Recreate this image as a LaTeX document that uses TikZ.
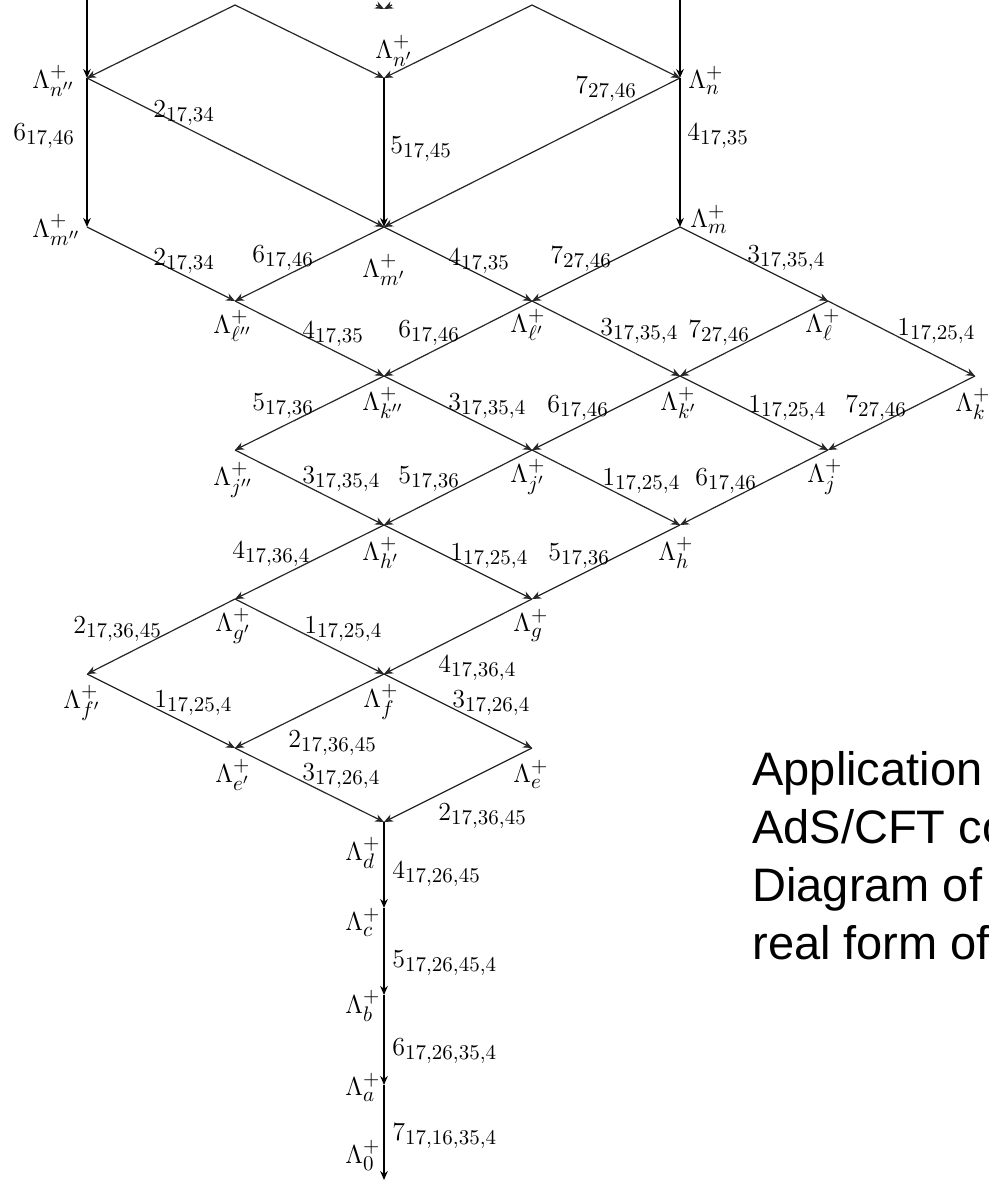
\RequirePackage{fix-cm}
\documentclass[tikz,border=0pt]{standalone}
\usepackage[no-math]{fontspec}
\newfontfamily\capfont{Liberation Sans}
\usetikzlibrary{arrows.meta}
\DeclareMathSizes{13}{13}{10.5}{7.5}
\newcommand\wt[2]{$#1_{#2}$}
\begin{document}
\begin{tikzpicture}[x=0.5pt,y=-0.5pt,
  vx/.style={coordinate},
  tip/.style={-{Stealth[length=4.5pt,width=3.8pt]}},
  diag/.style={tip,line width=0.6pt,black!85},
  vert/.style={tip,line width=0.9pt,black},
  lam/.style={anchor=base west,inner sep=0pt,font=\fontsize{13}{15}\selectfont},
  wlab/.style={anchor=base west,inner sep=0pt,font=\fontsize{13}{15}\selectfont},
  captext/.style={anchor=base west,inner sep=0pt,font=\capfont\fontsize{23.5}{29}\selectfont}]
\useasboundingbox (0,0) rectangle (989,1183);
\fill[white] (0,0) rectangle (989,1183);

% vertices of the weight diagram
\node[vx] (tA) at (87,-10) {};
\node[vx] (pA) at (235,5) {};
\node[vx] (pB) at (532,5) {};
\node[vx] (tC) at (680,-10) {};
\node[vx] (bL) at (376,5) {};
\node[vx] (bR) at (392,5) {};
\node[vx] (bl) at (384,9) {};

\node[vx] (nA) at (87,78) {};
\node[vx] (nB) at (384,78) {};
\node[vx] (nC) at (680,78) {};
\node[vx] (mA) at (87,227) {};
\node[vx] (mB) at (384,227) {};
\node[vx] (mC) at (680,227) {};
\node[vx] (lA) at (235,301) {};
\node[vx] (lB) at (532,301) {};
\node[vx] (lC) at (828,301) {};
\node[vx] (kA) at (384,376) {};
\node[vx] (kB) at (680,376) {};
\node[vx] (kC) at (975,376) {};
\node[vx] (jA) at (235,450) {};
\node[vx] (jB) at (532,450) {};
\node[vx] (jC) at (828,450) {};
\node[vx] (hA) at (384,525) {};
\node[vx] (hB) at (680,525) {};
\node[vx] (gA) at (235,599) {};
\node[vx] (gB) at (532,599) {};
\node[vx] (fA) at (87,674) {};
\node[vx] (fB) at (384,674) {};
\node[vx] (eA) at (235,748) {};
\node[vx] (eB) at (532,748) {};
\node[vx] (d) at (384,822) {};
\node[vx] (c) at (384,908) {};
\node[vx] (b) at (384,995) {};
\node[vx] (a) at (384,1085) {};
\node[vx] (z) at (384,1180) {};

% connectors
\draw[vert] (tA) -- (nA);
\draw[vert] (tC) -- (nC);
\draw[diag] (pA) -- (nA);
\draw[diag] (pA) -- (nB);
\draw[diag] (pB) -- (nB);
\draw[diag] (pB) -- (nC);
\draw[diag] (bL) -- (bl);
\draw[diag] (bR) -- (bl);

\draw[vert] (nA) -- (mA);
\draw[diag] (nA) -- (mB);
\draw[vert] (nB) -- (mB);
\draw[diag] (nC) -- (mB);
\draw[vert] (nC) -- (mC);

\draw[diag] (mA) -- (lA);
\draw[diag] (mB) -- (lA);
\draw[diag] (mB) -- (lB);
\draw[diag] (mC) -- (lB);
\draw[diag] (mC) -- (lC);

\draw[diag] (lA) -- (kA);
\draw[diag] (lB) -- (kA);
\draw[diag] (lB) -- (kB);
\draw[diag] (lC) -- (kB);
\draw[diag] (lC) -- (kC);

\draw[diag] (kA) -- (jA);
\draw[diag] (kA) -- (jB);
\draw[diag] (kB) -- (jB);
\draw[diag] (kB) -- (jC);
\draw[diag] (kC) -- (jC);

\draw[diag] (jA) -- (hA);
\draw[diag] (jB) -- (hA);
\draw[diag] (jB) -- (hB);
\draw[diag] (jC) -- (hB);

\draw[diag] (hA) -- (gA);
\draw[diag] (hA) -- (gB);
\draw[diag] (hB) -- (gB);

\draw[diag] (gA) -- (fA);
\draw[diag] (gA) -- (fB);
\draw[diag] (gB) -- (fB);

\draw[diag] (fA) -- (eA);
\draw[diag] (fB) -- (eA);
\draw[diag] (fB) -- (eB);

\draw[diag] (eA) -- (d);
\draw[diag] (eB) -- (d);

\draw[vert] (d) -- (c);
\draw[vert] (c) -- (b);
\draw[vert] (b) -- (a);
\draw[vert] (a) -- (z);

% weight names
\node[lam] (LnA) at (32,88) {$\Lambda^+_{n''}$};
\node[lam] (LnB) at (375,58) {$\Lambda^+_{n'}$};
\node[lam] (LnC) at (688,88) {$\Lambda^+_{n}$};
\node[lam] (LmA) at (32,237) {$\Lambda^+_{m''}$};
\node[lam] (LmB) at (362,277) {$\Lambda^+_{m'}$};
\node[lam] (LmC) at (690,227) {$\Lambda^+_{m}$};
\node[lam] (LlA) at (213,333) {$\Lambda^+_{\ell''}$};
\node[lam] (LlB) at (510,332) {$\Lambda^+_{\ell'}$};
\node[lam] (LlC) at (805,332) {$\Lambda^+_{\ell}$};
\node[lam] (LkA) at (362,410) {$\Lambda^+_{k''}$};
\node[lam] (LkB) at (660,410) {$\Lambda^+_{k'}$};
\node[lam] (LkC) at (955,411) {$\Lambda^+_{k}$};
\node[lam] (LjA) at (213,485) {$\Lambda^+_{j''}$};
\node[lam] (LjB) at (510,482) {$\Lambda^+_{j'}$};
\node[lam] (LjC) at (807,482) {$\Lambda^+_{j}$};
\node[lam] (LhA) at (362,560) {$\Lambda^+_{h'}$};
\node[lam] (LhB) at (658,560) {$\Lambda^+_{h}$};
\node[lam] (LgA) at (215,631) {$\Lambda^+_{g'}$};
\node[lam] (LgB) at (513,631) {$\Lambda^+_{g}$};
\node[lam] (LfA) at (63,708) {$\Lambda^+_{f'}$};
\node[lam] (LfB) at (363,707) {$\Lambda^+_{f}$};
\node[lam] (LeA) at (215,782) {$\Lambda^+_{e'}$};
\node[lam] (LeB) at (513,782) {$\Lambda^+_{e}$};
\node[lam] (Ld) at (345,860) {$\Lambda^+_{d}$};
\node[lam] (Lc) at (345,930) {$\Lambda^+_{c}$};
\node[lam] (Lb) at (345,1013) {$\Lambda^+_{b}$};
\node[lam] (La) at (345,1095) {$\Lambda^+_{a}$};
\node[lam] (Lz) at (345,1163) {$\Lambda^+_{0}$};

% root labels on the connectors
\node[wlab] (w1) at (13,140) {\wt{6}{17,46}};
\node[wlab] (w2) at (153,117) {\wt{2}{17,34}};
\node[wlab] (w3) at (390,153) {\wt{5}{17,45}};
\node[wlab] (w4) at (575,93) {\wt{7}{27,46}};
\node[wlab] (w5) at (687,140) {\wt{4}{17,35}};

\node[wlab] (w6) at (153,265) {\wt{2}{17,34}};
\node[wlab] (w7) at (252,262) {\wt{6}{17,46}};
\node[wlab] (w8) at (448,265) {\wt{4}{17,35}};
\node[wlab] (w9) at (550,263) {\wt{7}{27,46}};
\node[wlab] (w10) at (747,262) {\wt{3}{17,35,4}};

\node[wlab] (w11) at (302,338) {\wt{4}{17,35}};
\node[wlab] (w12) at (398,337) {\wt{6}{17,46}};
\node[wlab] (w13) at (600,335) {\wt{3}{17,35,4}};
\node[wlab] (w14) at (688,337) {\wt{7}{27,46}};
\node[wlab] (w15) at (897,335) {\wt{1}{17,25,4}};

\node[wlab] (w16) at (252,410) {\wt{5}{17,36}};
\node[wlab] (w17) at (448,410) {\wt{3}{17,35,4}};
\node[wlab] (w18) at (547,412) {\wt{6}{17,46}};
\node[wlab] (w19) at (748,412) {\wt{1}{17,25,4}};
\node[wlab] (w20) at (845,412) {\wt{7}{27,46}};

\node[wlab] (w21) at (302,483) {\wt{3}{17,35,4}};
\node[wlab] (w22) at (398,483) {\wt{5}{17,36}};
\node[wlab] (w23) at (602,485) {\wt{1}{17,25,4}};
\node[wlab] (w24) at (695,485) {\wt{6}{17,46}};

\node[wlab] (w25) at (232,558) {\wt{4}{17,36,4}};
\node[wlab] (w26) at (450,560) {\wt{1}{17,25,4}};
\node[wlab] (w27) at (548,560) {\wt{5}{17,36}};

\node[wlab] (w28) at (73,633) {\wt{2}{17,36,45}};
\node[wlab] (w29) at (304,633) {\wt{1}{17,25,4}};
\node[wlab] (w30) at (438,672) {\wt{4}{17,36,4}};

\node[wlab] (w31) at (154,707) {\wt{1}{17,25,4}};
\node[wlab] (w32) at (452,707) {\wt{3}{17,26,4}};
\node[wlab] (w33) at (288,747) {\wt{2}{17,36,45}};

\node[wlab] (w34) at (302,780) {\wt{3}{17,26,4}};
\node[wlab] (w35) at (438,820) {\wt{2}{17,36,45}};

\node[wlab] (w36) at (392,878) {\wt{4}{17,26,45}};
\node[wlab] (w37) at (392,967) {\wt{5}{17,26,45,4}};
\node[wlab] (w38) at (392,1055) {\wt{6}{17,26,35,4}};
\node[wlab] (w39) at (392,1140) {\wt{7}{17,16,35,4}};

% caption block
\node[captext] (t1) at (752,785) {Application};
\node[captext] (t2) at (752,843) {AdS/CFT co};
\node[captext] (t3) at (752,901) {Diagram of};
\node[captext] (t4) at (752,959) {real form of};
\end{tikzpicture}
\end{document}
